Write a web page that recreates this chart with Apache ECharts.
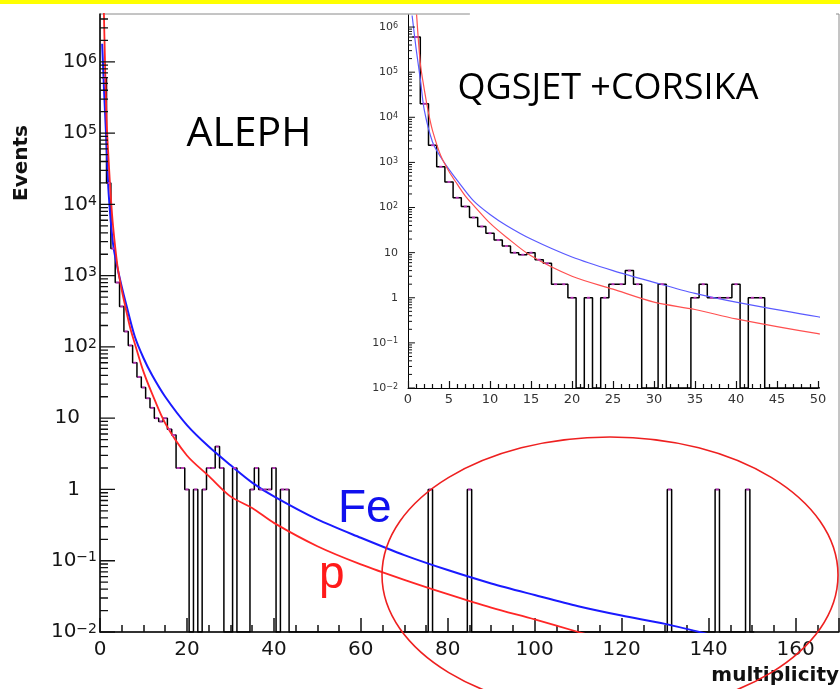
<!DOCTYPE html>
<html>
<head>
<meta charset="utf-8">
<title>multiplicity</title>
<script src="https://cdn.jsdelivr.net/npm/echarts@6.0.0/dist/echarts.min.js"></script>
<style>
    html, body { margin: 0; padding: 0; background: #fff; }
    #chart { width: 840px; height: 689px; }
</style>
</head>
<body>
<div id="chart"></div>
<script>
// histogram: bin centres (integer multiplicity) and events per bin, empty bins left out
const histBins = [1, 2, 3, 4, 5, 6, 7, 8, 9, 10, 11, 12, 13, 14, 15, 16, 17, 18, 19, 20,
    22, 24, 25, 26, 27, 28, 31, 35, 36, 37, 38, 39, 40, 42, 43, 76, 85, 131, 142, 149];
const histEvents = [600000, 20000, 2400, 800, 370, 165, 105, 60, 38, 27, 19, 14, 10, 9, 10, 7, 5.8, 2, 2, 1,
    1, 1, 2, 2, 4, 2, 2, 1, 2, 1, 1, 1, 2, 1, 1, 1, 1, 1, 1, 1];
const lastBin = 150;

// Fe simulation (blue)
const feX = [0.5, 1, 1.5, 2, 3, 4, 5, 6, 8, 10, 12, 15, 20, 25, 30, 35, 40, 50, 60, 70, 80, 90, 100, 110, 120, 130, 140];
const feEvents = [1.8e6, 3.2e5, 7e4, 1.4e4, 2800, 1300, 700, 400, 140, 70, 40, 20, 8, 4, 2.2, 1.25, 0.8, 0.38, 0.21,
    0.12, 0.074, 0.048, 0.033, 0.023, 0.017, 0.013, 0.0093];

// proton simulation (red)
const pX = [0.8, 1, 1.5, 2, 2.5, 3, 4, 5, 6, 7, 8, 10, 12, 15, 20, 25, 30, 35, 40, 50, 60, 70, 80, 90, 100, 110, 115];
const pEvents = [1e7, 2.5e6, 1.6e5, 4e4, 1.25e4, 5000, 1400, 630, 330, 180, 112, 45, 22, 8.5, 3.0, 1.55, 0.8, 0.55,
    0.34, 0.16, 0.089, 0.054, 0.034, 0.022, 0.015, 0.01, 0.0083];

// axis ranges and ticks
const mainXMax = 170;
const mainYMin = 0.01;
const mainYMax = 4.7e6;
const insetXMax = 50;
const insetYMin = 0.01;
const insetYMax = 1.85e6;
const decadeExps = [-2, -1, 0, 1, 2, 3, 4, 5, 6];
const logMinorSteps = [2, 3, 4, 5, 6, 7, 8, 9];

const chart = echarts.init(document.getElementById('chart'), null, { renderer: 'canvas' });

function histPoints(floor) {
    const counts = {};
    histBins.forEach((b, i) => { counts[b] = histEvents[i]; });
    const pts = [];
    for (let n = 1; n <= lastBin; n++) {
        const v = counts[n] || floor;
        pts.push([n - 0.5, v], [n + 0.5, v]);
    }
    return pts;
}

function pairs(xs, ys) {
    return xs.map((x, i) => [x, ys[i]]);
}

function markerPoints() {
    return histBins.map((b, i) => [b, histEvents[i]]);
}

// y-axis log ticks as short broken line segments (lengths in x units)
function logTickPoints(min, max, majorLen, minorLen) {
    const pts = [];
    const add = (v, len) => {
        if (v < min || v > max) return;
        pts.push([0, v], [len, v], ['-', '-']);
    };
    decadeExps.forEach((e) => {
        const base = Math.pow(10, e);
        add(base, majorLen);
        logMinorSteps.forEach(m => add(m * base, minorLen));
    });
    return pts;
}

function tickSeries(xi, yi, data, width) {
    return {
        type: 'line', xAxisIndex: xi, yAxisIndex: yi, data: data,
        symbol: 'none', connectNulls: false, silent: true, clip: false,
        lineStyle: { color: '#111', width: width }, z: 6,
    };
}

function logLabel(v) {
    const lg = Math.log10(v);
    const e = Math.round(lg);
    if (Math.abs(lg - e) > 1e-6) return '';
    if (e === 0) return '{p|1}';
    if (e === 1) return '{p|10}';
    return '{b|10}{s|' + (e < 0 ? '\u2212' + (-e) : e) + '}';
}

const mainRich = {
    b: { fontFamily: 'DejaVu Sans', fontSize: 20, color: '#151515', lineHeight: 20, verticalAlign: 'bottom' },
    s: { fontFamily: 'DejaVu Sans', fontSize: 14, color: '#151515', lineHeight: 14, verticalAlign: 'top', padding: [0, 0, 15, 0] },
    p: { fontFamily: 'DejaVu Sans', fontSize: 20, color: '#151515', lineHeight: 20, padding: [0, 17, 0, 0] },
};
const insetRich = {
    b: { fontFamily: 'DejaVu Sans', fontSize: 11, color: '#333', lineHeight: 11, verticalAlign: 'bottom' },
    s: { fontFamily: 'DejaVu Sans', fontSize: 8, color: '#333', lineHeight: 8, verticalAlign: 'top', padding: [0, 0, 8, 0] },
    p: { fontFamily: 'DejaVu Sans', fontSize: 11, color: '#333', lineHeight: 11 },
};

const option = {
    backgroundColor: '#fff',
    animation: false,
    grid: [
        {
            left: 100, top: 14, right: 1, bottom: 57,
            show: true, borderColor: '#8a8a8a', borderWidth: 1,
            containLabel: false, outerBoundsMode: 'none',
        },
        {
            left: 408, top: 15, right: 22, bottom: 301,
            show: false, containLabel: false, outerBoundsMode: 'none',
        },
    ],
    xAxis: [
        {
            gridIndex: 0, type: 'value', position: 'bottom', min: 0, max: mainXMax, interval: 5,
            axisLine: { show: true, onZero: false, lineStyle: { color: '#000', width: 1.5 } },
            axisTick: { show: true, inside: true, length: 7, lineStyle: { color: '#111', width: 1.5 } },
            splitLine: { show: false },
            axisLabel: {
                margin: 8, fontFamily: 'DejaVu Sans', fontSize: 20, color: '#151515',
                formatter: v => (v % 20 === 0 ? String(v) : ''),
            },
        },
        {
            // long ticks every 20
            gridIndex: 0, type: 'value', position: 'bottom', min: 0, max: mainXMax, interval: 20,
            axisLine: { show: false, onZero: false },
            axisTick: { show: true, inside: true, length: 14, lineStyle: { color: '#111', width: 1.5 } },
            splitLine: { show: false },
            axisLabel: { show: false },
        },
        {
            gridIndex: 1, type: 'value', position: 'bottom', min: 0, max: insetXMax, interval: 5,
            axisLine: { show: true, onZero: false, lineStyle: { color: '#000', width: 1 } },
            axisTick: { show: true, inside: true, length: 7, lineStyle: { color: '#111', width: 1.2 } },
            minorTick: { show: true, splitNumber: 5, length: 4, lineStyle: { color: '#111', width: 1.2 } },
            splitLine: { show: false },
            axisLabel: { margin: 5, fontFamily: 'DejaVu Sans', fontSize: 13, color: '#333' },
        },
    ],
    yAxis: [
        {
            gridIndex: 0, type: 'log', logBase: 10, min: mainYMin, max: mainYMax, splitNumber: 10,
            axisLine: { show: true, onZero: false, lineStyle: { color: '#000', width: 1.5 } },
            axisTick: { show: false },
            splitLine: { show: false },
            axisLabel: { margin: 3, formatter: logLabel, rich: mainRich },
        },
        {
            gridIndex: 1, type: 'log', logBase: 10, min: insetYMin, max: insetYMax, splitNumber: 10,
            axisLine: { show: true, onZero: false, lineStyle: { color: '#000', width: 1 } },
            axisTick: { show: false },
            splitLine: { show: false },
            axisLabel: { margin: 10, formatter: logLabel, rich: insetRich },
        },
    ],
    series: [
        // main plot
        {
            type: 'line', xAxisIndex: 0, yAxisIndex: 0, data: histPoints(mainYMin),
            symbol: 'none', clip: true, lineStyle: { color: '#000', width: 1.5 }, z: 3,
        },
        {
            type: 'line', xAxisIndex: 0, yAxisIndex: 0, data: pairs(feX, feEvents),
            symbol: 'none', smooth: 0.3, clip: true, lineStyle: { color: '#1a1aff', width: 2 }, z: 4,
        },
        {
            type: 'line', xAxisIndex: 0, yAxisIndex: 0, data: pairs(pX, pEvents),
            symbol: 'none', smooth: 0.3, clip: true, lineStyle: { color: '#ff2626', width: 1.8 }, z: 4,
        },
        {
            type: 'scatter', xAxisIndex: 0, yAxisIndex: 0, data: markerPoints(),
            symbol: 'rect', symbolSize: [3, 2], itemStyle: { color: '#d63cd6', opacity: 0.8 }, silent: true, z: 5,
        },
        tickSeries(0, 0, logTickPoints(mainYMin, mainYMax, 3.45, 1.84), 1.3),
        // inset
        {
            type: 'line', xAxisIndex: 2, yAxisIndex: 1, data: histPoints(insetYMin),
            symbol: 'none', clip: true, lineStyle: { color: '#000', width: 1.5 }, z: 3,
        },
        {
            type: 'line', xAxisIndex: 2, yAxisIndex: 1, data: pairs(feX, feEvents),
            symbol: 'none', smooth: 0.3, clip: true, lineStyle: { color: '#5a5aff', width: 1.2 }, z: 4,
        },
        {
            type: 'line', xAxisIndex: 2, yAxisIndex: 1, data: pairs(pX, pEvents),
            symbol: 'none', smooth: 0.3, clip: true, lineStyle: { color: '#ff5050', width: 1.2 }, z: 4,
        },
        {
            type: 'scatter', xAxisIndex: 2, yAxisIndex: 1, data: markerPoints(),
            symbol: 'rect', symbolSize: [3, 2], itemStyle: { color: '#d63cd6', opacity: 0.8 }, silent: true, z: 5,
        },
        tickSeries(2, 1, logTickPoints(insetYMin, insetYMax, 0.85, 0.49), 1),
    ],
    graphic: {
        elements: [
            { type: 'rect', z: 100, shape: { x: 0, y: 0, width: 840, height: 4 }, style: { fill: '#ffff00' } },
            // the inset hides the frame top of the main plot
            { type: 'rect', z: 50, shape: { x: 470, y: 10, width: 366, height: 8 }, style: { fill: '#fff' } },
            {
                type: 'text', z: 60, x: 249, y: 134,
                style: { text: 'ALEPH', font: '41px "Open Sans"', fill: '#000', textAlign: 'center', align: 'center', textVerticalAlign: 'middle', verticalAlign: 'middle' },
            },
            {
                type: 'text', z: 60, x: 608, y: 89,
                style: { text: 'QGSJET +CORSIKA', font: '36px "Open Sans"', fill: '#000', textAlign: 'center', align: 'center', textVerticalAlign: 'middle', verticalAlign: 'middle' },
            },
            {
                type: 'text', z: 60, x: 338, y: 509,
                style: { text: 'Fe', font: '46px "Liberation Sans"', fill: '#1010ee', textAlign: 'left', align: 'left', textVerticalAlign: 'middle', verticalAlign: 'middle' },
            },
            {
                type: 'text', z: 60, x: 319, y: 575,
                style: { text: 'p', font: '46px "Liberation Sans"', fill: '#ff1a1a', textAlign: 'left', align: 'left', textVerticalAlign: 'middle', verticalAlign: 'middle' },
            },
            {
                type: 'text', z: 60, x: 22, y: 163, rotation: Math.PI / 2,
                style: { text: 'Events', font: 'bold 20px "DejaVu Sans"', fill: '#111', textAlign: 'center', align: 'center', textVerticalAlign: 'middle', verticalAlign: 'middle' },
            },
            {
                type: 'text', z: 60, x: 839, y: 676,
                style: { text: 'multiplicity', font: 'bold 20px "DejaVu Sans"', fill: '#111', textAlign: 'right', align: 'right', textVerticalAlign: 'middle', verticalAlign: 'middle' },
            },
            {
                type: 'ellipse', z: 70, shape: { cx: 610, cy: 575, rx: 228, ry: 138 },
                style: { fill: 'none', stroke: '#ee2020', lineWidth: 1.6 },
            },
        ],
    },
};

chart.setOption(option);
window.addEventListener('resize', () => {
    chart.resize();
});
</script>
</body>
</html>
